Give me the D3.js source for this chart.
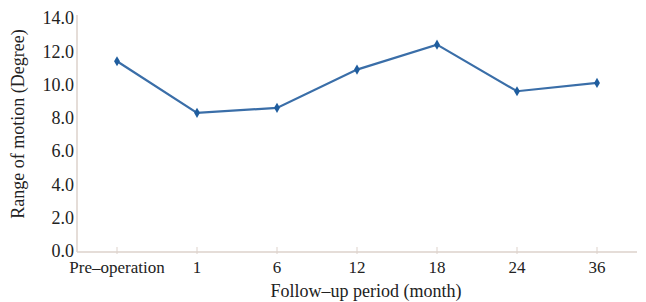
<!DOCTYPE html>
<html>
<head>
<meta charset="utf-8">
<script src="https://cdn.jsdelivr.net/npm/d3@7"></script>
<style>
  body { margin: 0; background: #fff; }
  svg { display: block; }
  text { font-family: "Liberation Serif", "DejaVu Serif", serif; fill: #222; }
</style>
</head>
<body>
<svg id="main" width="646" height="302"></svg>
<script>
// follow-up time points and mean range of motion
var periods = ["Pre–operation", "1", "6", "12", "18", "24", "36"];
var motion = [11.4, 8.3, 8.6, 10.9, 12.4, 9.6, 10.1];
var yTicks = [0, 2, 4, 6, 8, 10, 12, 14];

var svg = d3.select("#main");

var plotLeft = 77, plotRight = 637, plotTop = 18, plotBottom = 251;

var x = d3.scalePoint().domain(periods).range([plotLeft, plotRight]).padding(0.5);
var y = d3.scaleLinear().domain([0, 14]).range([plotBottom, plotTop]);

var axisColor = "#ddd2cb";

// y axis
svg.append("line")
  .attr("x1", plotLeft).attr("x2", plotLeft)
  .attr("y1", plotTop - 3).attr("y2", plotBottom + 1)
  .style("stroke", axisColor).style("stroke-width", 1.5);

svg.selectAll(".ylab").data(yTicks).enter().append("text")
  .attr("class", "ylab")
  .attr("x", plotLeft - 3)
  .attr("y", function(d) { return y(d); })
  .attr("dy", "0.35em")
  .attr("text-anchor", "end")
  .style("font-size", "18px")
  .text(function(d) { return d.toFixed(1); });

// x axis
svg.append("line")
  .attr("x1", plotLeft).attr("x2", plotRight)
  .attr("y1", plotBottom + 1).attr("y2", plotBottom + 1)
  .style("stroke", axisColor).style("stroke-width", 1.5);

svg.selectAll(".xtick").data(periods).enter().append("line")
  .attr("class", "xtick")
  .attr("x1", function(d) { return x(d); }).attr("x2", function(d) { return x(d); })
  .attr("y1", plotBottom - 4).attr("y2", plotBottom + 3)
  .style("stroke", axisColor).style("stroke-width", 1);

svg.selectAll(".xlab").data(periods).enter().append("text")
  .attr("class", "xlab")
  .attr("x", function(d) { return x(d); })
  .attr("y", plotBottom + 22)
  .attr("text-anchor", "middle")
  .style("font-size", "17px")
  .text(function(d) { return d; });

// axis titles
svg.append("text")
  .attr("x", 366)
  .attr("y", 297)
  .attr("text-anchor", "middle")
  .style("font-size", "18px")
  .text("Follow–up period (month)");

svg.append("text")
  .attr("transform", "translate(24,124) rotate(-90)")
  .attr("text-anchor", "middle")
  .style("font-size", "18px")
  .text("Range of motion (Degree)");

// the series
var line = d3.line()
  .x(function(d, i) { return x(periods[i]); })
  .y(function(d) { return y(d); });

svg.append("path")
  .datum(motion)
  .attr("d", line)
  .style("fill", "none")
  .style("stroke", "#3a6ea8")
  .style("stroke-width", 2.2);

svg.selectAll(".dot").data(motion).enter().append("path")
  .attr("class", "dot")
  .attr("transform", function(d, i) { return "translate(" + x(periods[i]) + "," + y(d) + ")"; })
  .attr("d", d3.symbol().type(d3.symbolDiamond).size(30))
  .style("fill", "#1f5d9e");
</script>
</body>
</html>
